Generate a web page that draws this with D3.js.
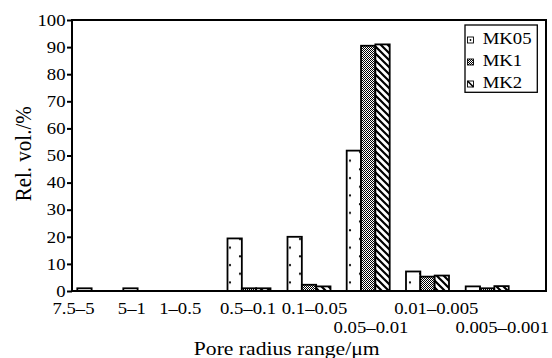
<!DOCTYPE html>
<html>
<head>
<meta charset="utf-8">
<script src="https://cdn.jsdelivr.net/npm/d3@7"></script>
<style>
  html, body { margin: 0; padding: 0; background: #fff; }
  svg { display: block; }
  text { font-family: "Liberation Serif", "Times New Roman", serif; fill: #000; }
</style>
</head>
<body>
<svg id="chart" width="552" height="358"></svg>
<script>
// Pore radius ranges (µm) and relative pore volume (%) per mortar
const categories = ["7.5–5", "5–1", "1–0.5", "0.5–0.1", "0.1–0.05", "0.05–0.01", "0.01–0.005", "0.005–0.001"];
const seriesNames = ["MK05", "MK1", "MK2"];
const mk05 = [1.0, 1.0, 0, 19.4, 20.0, 51.8, 7.2, 1.7];
const mk1  = [0, 0, 0, 1.0, 2.3, 90.5, 5.3, 1.0];
const mk2  = [0, 0, 0, 1.0, 1.7, 91.0, 5.7, 1.8];
const yTicks = [0, 10, 20, 30, 40, 50, 60, 70, 80, 90, 100];
// labels that drop to the second row under the axis
const lowerRowLabels = ["0.05–0.01", "0.005–0.001"];

const seriesValues = { MK05: mk05, MK1: mk1, MK2: mk2 };

const svg = d3.select("#chart");
const plot = { left: 72, right: 546, top: 20, bottom: 291 };
const stretch = 1.17; // wide serif lettering

// y scale
const y = d3.scaleLinear().domain([0, 100]).range([plot.bottom, plot.top]);

// group start positions along the axis (uneven spacing of the original layout)
const groupX = d3.scaleOrdinal()
  .domain(categories)
  .range([77.3, 123.3, 175, 227.5, 287.5, 346.7, 406, 465.7]);
// tick label centres
const labelX = d3.scaleOrdinal()
  .domain(categories)
  .range([73, 131.3, 179.7, 247.5, 314, 370.5, 435.8, 501.7]);
// bars inside a group
const inner = d3.scaleBand().domain(seriesNames).range([0, 43]);

// fill patterns
const defs = svg.append("defs");
const pDots = defs.append("pattern").attr("id", "pat-mk05")
  .attr("patternUnits", "userSpaceOnUse").attr("width", 20).attr("height", 17.4);
pDots.append("rect").attr("width", 20).attr("height", 17.4).attr("fill", "#fff");
pDots.append("circle").attr("cx", 10).attr("cy", 4.1).attr("r", 1.1).attr("fill", "#000");
pDots.append("circle").attr("cx", 0).attr("cy", 12.8).attr("r", 1.1).attr("fill", "#000");
pDots.append("circle").attr("cx", 20).attr("cy", 12.8).attr("r", 1.1).attr("fill", "#000");

const pCheck = defs.append("pattern").attr("id", "pat-mk1")
  .attr("patternUnits", "userSpaceOnUse").attr("width", 2).attr("height", 2);
pCheck.append("rect").attr("width", 2).attr("height", 2).attr("fill", "#fff");
pCheck.append("rect").attr("x", 0).attr("y", 0).attr("width", 1).attr("height", 1).attr("fill", "#000");
pCheck.append("rect").attr("x", 1).attr("y", 1).attr("width", 1).attr("height", 1).attr("fill", "#000");

const pStripe = defs.append("pattern").attr("id", "pat-mk2")
  .attr("patternUnits", "userSpaceOnUse").attr("width", 7).attr("height", 7);
pStripe.append("rect").attr("width", 7).attr("height", 7).attr("fill", "#fff");
pStripe.append("path").attr("d", "M-1,-1 L8,8 M-1,6 L1,8 M6,-1 L8,1")
  .attr("stroke", "#000").attr("stroke-width", 2.2);

const fills = { MK05: "url(#pat-mk05)", MK1: "url(#pat-mk1)", MK2: "url(#pat-mk2)" };

// bars
const barData = [];
seriesNames.forEach(s => {
  seriesValues[s].forEach((v, i) => {
    if (v > 0) barData.push({ series: s, category: categories[i], value: v });
  });
});

svg.append("g").selectAll("rect")
  .data(barData)
  .join("rect")
  .attr("x", d => groupX(d.category) + inner(d.series))
  .attr("y", d => y(d.value))
  .attr("width", inner.bandwidth())
  .attr("height", d => y(0) - y(d.value))
  .attr("fill", d => fills[d.series])
  .attr("stroke", "#000")
  .attr("stroke-width", 1.8);

// y axis
const yAxis = svg.append("g")
  .attr("transform", `translate(${plot.left},0)`)
  .call(d3.axisLeft(y).tickValues(yTicks).tickSize(5).tickPadding(0));
yAxis.select(".domain").remove();
yAxis.selectAll(".tick line").attr("stroke", "#000").attr("stroke-width", 2);
yAxis.selectAll(".tick text")
  .attr("x", -6.5 / stretch)
  .attr("dy", "0.33em")
  .attr("transform", `scale(${stretch},1)`)
  .style("font-size", "16px")
  .style("font-family", "'Liberation Serif', serif");

// x axis labels
const xAxis = svg.append("g")
  .attr("transform", `translate(0,${plot.bottom})`)
  .call(d3.axisBottom(labelX).tickSize(0).tickPadding(0));
xAxis.select(".domain").remove();
xAxis.selectAll(".tick text")
  .attr("y", d => lowerRowLabels.includes(d) ? 42 : 23)
  .attr("dy", 0)
  .attr("transform", `scale(${stretch},1)`)
  .style("font-size", "16px")
  .style("font-family", "'Liberation Serif', serif");

// frame
const frame = svg.append("g").attr("fill", "none").attr("stroke", "#000").attr("stroke-width", 2);
frame.append("path")
  .attr("d", `M${plot.left},${plot.top} H${plot.right} V${plot.bottom} H${plot.left} Z`);

// axis titles
svg.append("text")
  .attr("transform", `translate(286.7,355) scale(${stretch},1)`)
  .attr("text-anchor", "middle")
  .style("font-size", "18.5px")
  .text("Pore radius range/μm");

svg.append("text")
  .attr("transform", `translate(30.5,153.8) scale(1.05,1) rotate(-90)`)
  .attr("text-anchor", "middle")
  .style("font-size", "21px")
  .text("Rel. vol./%");

// legend
const legend = svg.append("g");
legend.append("rect")
  .attr("x", 465).attr("y", 25).attr("width", 72.3).attr("height", 67.3)
  .attr("fill", "#fff").attr("stroke", "#000").attr("stroke-width", 1.3);

const legendY = d3.scalePoint().domain(seriesNames).range([44, 88]);
const items = legend.selectAll("g.item").data(seriesNames).join("g")
  .attr("class", "item")
  .attr("transform", d => `translate(0,${legendY(d)})`);

items.append("rect")
  .attr("x", 467.5).attr("y", -7).attr("width", 6).attr("height", 6)
  .attr("fill", d => d === "MK1" ? "url(#pat-mk1)" : "#fff")
  .attr("stroke", "#000").attr("stroke-width", 0.9);
items.filter(d => d === "MK05").append("circle")
  .attr("cx", 470.5).attr("cy", -4).attr("r", 0.9).attr("fill", "#000");
items.filter(d => d === "MK2").append("path")
  .attr("d", "M467.5,-7 L473.5,-1").attr("stroke", "#000").attr("stroke-width", 1.6);

items.append("text")
  .attr("transform", `translate(482.7,0) scale(${stretch},1)`)
  .style("font-size", "16px")
  .text(d => d);
</script>
</body>
</html>
